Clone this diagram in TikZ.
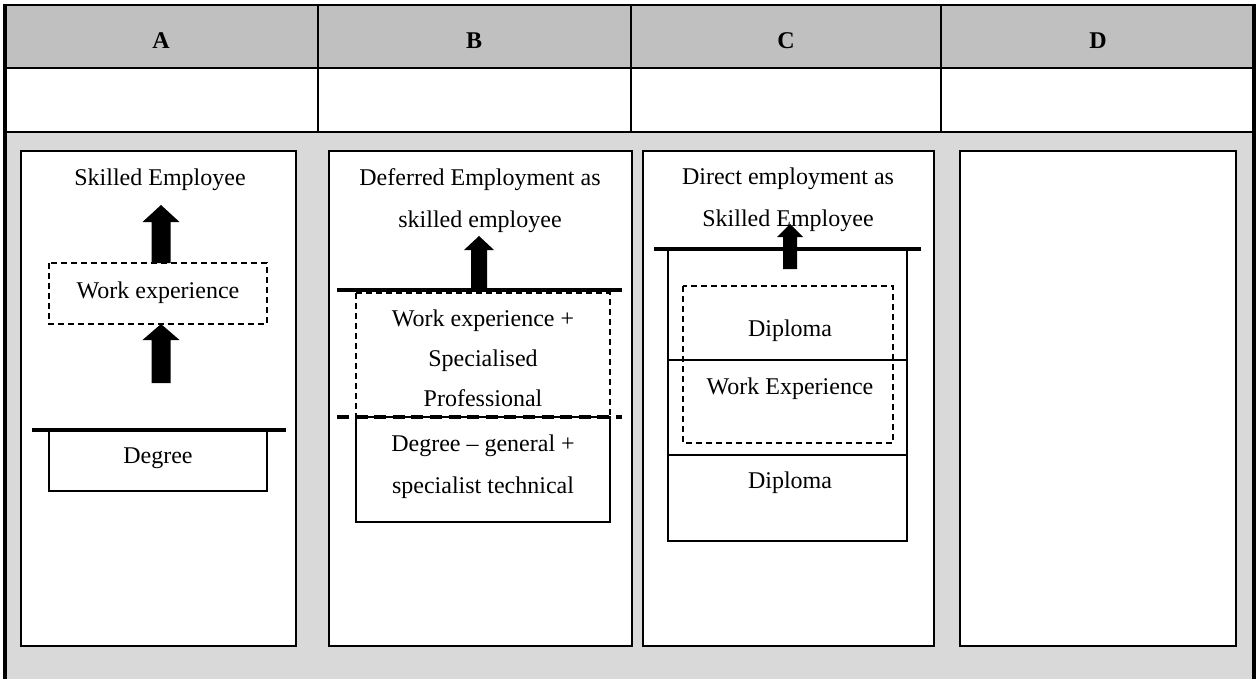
\documentclass[tikz,border=0pt]{standalone}
\usepackage{fontspec}
\setmainfont{Liberation Serif}
\definecolor{headgray}{HTML}{C0C0C0}
\definecolor{bodygray}{HTML}{D9D9D9}
\tikzset{
  rule/.style={line width=1pt, black},
  frame/.style={line width=2pt, black},
  panel/.style={line width=1pt, draw=black, fill=white},
  stagebox/.style={line width=0.8pt, draw=black},
  dashbox/.style={line width=0.8pt, draw=black, dash pattern=on 3pt off 2pt},
  floor/.style={line width=1.6pt, black},
  dashfloor/.style={line width=1.6pt, black, dash pattern=on 6pt off 3.3pt},
  label/.style={font=\fontsize{12}{21}\selectfont, align=center, inner sep=0pt},
  head/.style={font=\fontsize{12}{14}\selectfont\bfseries, inner sep=0pt},
  blockarrow/.style={fill=black, draw=none}
}
% block arrow pointing up: x, tip y, head base y, bottom y, head half width, shaft half width
\newcommand{\uparrowblock}[6]{%
  \fill[blockarrow] (#1,#2) -- (#1+#5,#3) -- (#1+#6,#3) -- (#1+#6,#4)
    -- (#1-#6,#4) -- (#1-#6,#3) -- (#1-#5,#3) -- cycle;}
\begin{document}
\begin{tikzpicture}[x=0.5pt,y=-0.5pt]
\useasboundingbox (0,0) rectangle (1256,679);
\fill[white] (0,0) rectangle (1256,679);

% table backgrounds
\fill[headgray] (5,5) rectangle (1254,68.5);
\fill[bodygray] (5,132.5) rectangle (1254,679);

% table rules
\draw[rule] (4,5) -- (1255,5);
\draw[rule] (5,68.5) -- (1254,68.5);
\draw[rule] (5,132.5) -- (1254,132.5);
\foreach \cx in {318,631,941} \draw[rule] (\cx,5) -- (\cx,132.5);
\draw[frame] (5,4) -- (5,679);
\draw[frame] (1254,4) -- (1254,679);

% column headings
\node[head] (hA) at (161,41) {A};
\node[head] (hB) at (474,41) {B};
\node[head] (hC) at (786,41) {C};
\node[head] (hD) at (1098,41) {D};

% panels
\draw[panel] (21,151) rectangle (296,646);
\draw[panel] (329,151) rectangle (632,646);
\draw[panel] (643,151) rectangle (934,646);
\draw[panel] (960,151) rectangle (1236,646);

% ---- column A ----
\node[label] (aTop) at (160,180) {Skilled Employee};
\draw[dashbox] (49,263) rectangle (267,324);
\node[label] (aWork) at (158,293) {Work experience};
\draw[stagebox] (49,430) rectangle (267,491);
\node[label] (aDeg) at (158,458) {Degree};
\draw[floor] (32,430) -- (286,430);
\uparrowblock{161}{205}{222}{263}{18.5}{9.5}
\uparrowblock{161}{324}{340}{383}{18.5}{9.5}

% ---- column B ----
\node[label] (bTop) at (480,201) {Deferred Employment as\\skilled employee};
\draw[dashbox] (356,293) rectangle (610,417);
\node[label, font=\fontsize{12}{20}\selectfont] (bWork) at (483,358) {Work experience +\\Specialised\\Professional};
\draw[stagebox] (356,417) rectangle (610,522);
\node[label] (bDeg) at (483,467) {Degree -- general +\\specialist technical};
\draw[floor] (337,290) -- (622,290);
\draw[dashfloor] (337,417) -- (622,417);
\uparrowblock{479}{236}{250}{290}{15}{8}

% ---- column C ----
\node[label] (cTop) at (788,200) {Direct employment as\\Skilled Employee};
\draw[stagebox] (668,249) rectangle (907,541);
\draw[stagebox] (668,360) -- (907,360);
\draw[stagebox] (668,455) -- (907,455);
\draw[dashbox] (683,286) rectangle (893,443);
\node[label] (cDip) at (790,331) {Diploma};
\node[label] (cWork) at (790,389) {Work Experience};
\node[label] (cDipLow) at (790,483) {Diploma};
\draw[floor] (654,249) -- (921,249);
\uparrowblock{790}{224}{237}{269}{13}{7}
\end{tikzpicture}
\end{document}
